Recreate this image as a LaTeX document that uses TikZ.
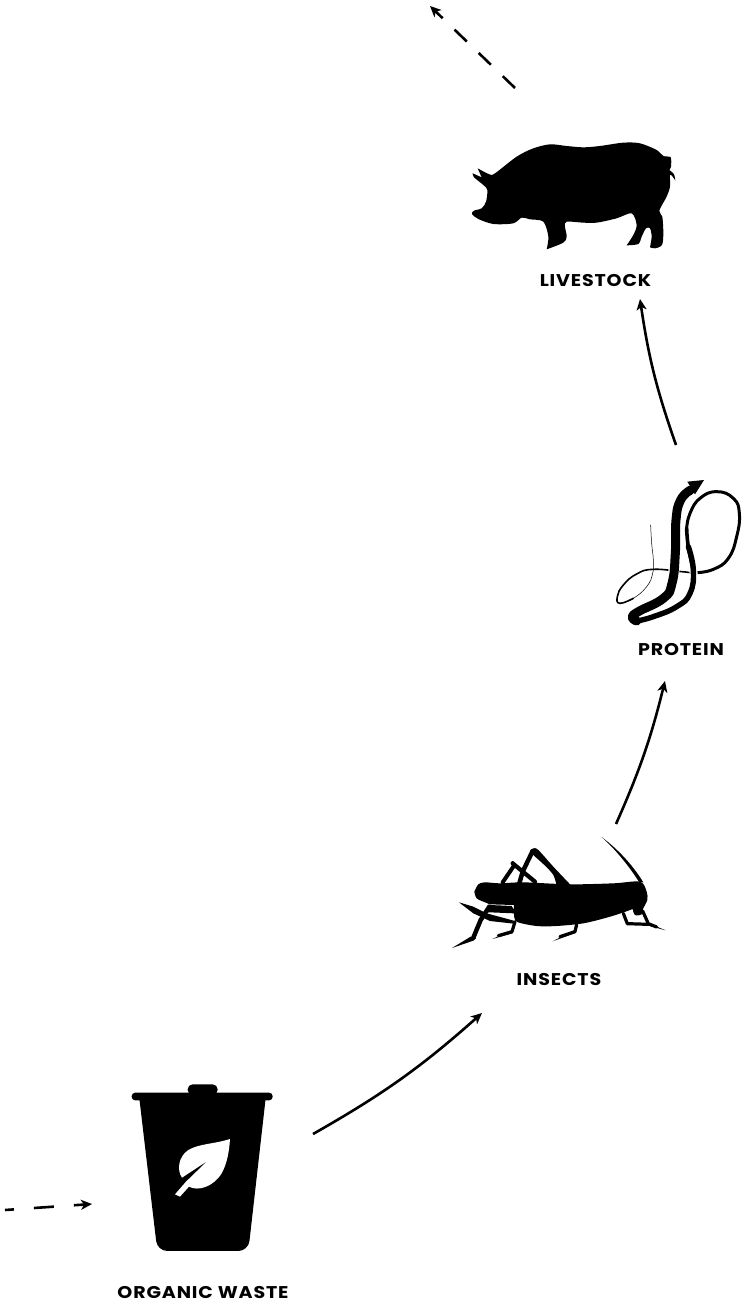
\documentclass[tikz,border=0pt]{standalone}
\usepackage{fontspec}
\setmainfont{Poppins}[BoldFont={Poppins Bold},BoldFeatures={FakeStretch=1.12,LetterSpace=5}]
\usetikzlibrary{arrows.meta}
\tikzset{
  x=1pt,y=-1pt,
  lbl/.style={font=\bfseries\fontsize{17}{19}\selectfont,inner sep=0pt,text=black},
  flow/.style={line width=2.6pt,-{Stealth[length=11pt,width=10pt,inset=3pt]}},
  dflowa/.style={flow,dash pattern=on 17pt off 16.5pt},
  dflowb/.style={flow,dash pattern=on 20pt off 20pt,dash phase=11pt},
  ink/.style={fill=black,draw=none},
  pen/.style={draw=black,line cap=round,line join=round},
  sm/.style={smooth,tension=.5},
  sw/.style={smooth,tension=.8},
}
\begin{document}
\begin{tikzpicture}
\useasboundingbox (0,0) rectangle (743,1303);
% pig
\begin{scope}[shift={(450,120)},x=.3333pt,y=-.3333pt]
\fill[ink] plot[sm] coordinates{(83,145)(118,163)(135,160)(200,110)(250,85)(300,73)(350,78)(400,82)(450,78)(520,68)(570,70)(620,90)(640,108)(662,112)(663,140)(658,150)}
 -- plot[sm] coordinates{(658,150)(672,163)(676,182)} -- plot[sm] coordinates{(676,182)(668,170)(660,165)(660,200)(650,230)(628,272)(637,290)(640,340)(636,375)(615,385)(600,382)}
 -- plot[sm] coordinates{(600,382)(605,350)(600,325)(588,325)(575,350)(565,372)(530,376)}
 -- plot[sm] coordinates{(530,376)(550,345)(560,315)(545,280)(500,295)(440,308)(400,308)(350,305)(345,320)(350,350)(340,368)(290,388)}
 -- plot[sm] coordinates{(290,388)(295,350)(280,305)(240,298)(215,293)(190,310)(130,312)(85,297)(66,282)(72,272)(95,265)(108,245)(112,210)(100,195)(72,172)(68,160)}
 -- (95,172) -- cycle;
\end{scope}
\node[lbl,anchor=center] (livestock) at (595.5,280.5) {LIVESTOCK};
% worm
\begin{scope}[shift={(600,470)},x=.3333pt,y=-.3333pt]
\draw[pen,line width=.5pt] plot[sw] coordinates{(152,165)(155,220)(160,270)(158,310)(140,350)(100,385)(60,400)};
\draw[pen,line width=1.6pt] plot[sw] coordinates{(100,385)(60,400)(52,380)(70,345)(110,312)(160,298)(245,305)(290,308)(340,298)(385,265)(410,200)(418,130)(400,85)(350,65)(300,85)(270,130)(260,175)};
\draw[pen,line width=3pt] plot[sw] coordinates{(290,308)(340,298)(385,265)(410,200)(418,130)(400,85)(350,65)(300,85)(270,130)(260,175)};
\draw[white,line width=8pt] plot[sw] coordinates{(262,230)(280,300)(276,345)};
\draw[white,line width=11pt] plot[sw] coordinates{(228,230)(226,270)(216,340)};
\draw[pen,line width=3.6pt] plot[sw] coordinates{(260,175)(265,230)(280,300)};
\draw[pen,line width=5.4pt] plot[sw] coordinates{(265,230)(280,300)(270,370)(230,410)(160,440)(110,453)};
\draw[pen,line width=9pt] plot[sw] coordinates{(272,60)(242,90)(228,150)(226,250)(216,340)(190,385)(115,425)(97,442)(110,453)};
\fill[ink] (262,35) -- (312,30) -- (285,73) -- cycle;
\end{scope}
\node[lbl,anchor=center] (protein) at (681,649.5) {PROTEIN};
% cricket
\begin{scope}[shift={(440,825)},x=.3333pt,y=-.3333pt]
\fill[ink] plot[sm] coordinates{(103,200)(115,178)(135,172)(180,175)(250,172)(390,178)(520,175)(600,170)(620,200)(622,225)(610,250)(605,268)(585,270)(578,252)}
 -- plot[sm] coordinates{(578,252)(548,263)(500,278)(430,295)(350,303)(290,303)(230,290)(222,265)} -- (150,262) -- (140,262) -- (150,240) -- (215,243) -- (222,255) -- (222,265) -- (222,240) -- (150,238)
 -- plot[sm] coordinates{(150,238)(135,232)(110,220)(103,200)};
\fill[ink] plot[sm] coordinates{(270,78)(280,70)(295,75)(340,125)(392,180)} -- (350,182) -- plot[sm] coordinates{(350,182)(340,150)(315,122)(282,92)} -- cycle;
\fill[ink] (57,232) -- (100,245) -- (140,265) -- (225,288) -- (222,296) -- (150,288) -- (100,265) -- cycle;
\fill[ink] (485,36) .. controls (530,70) and (575,115) .. (610,172) -- (598,172) .. controls (565,120) and (525,72) .. cycle;
\draw[pen,line width=4.5pt] (278,78) -- (248,140) -- (238,175);
\draw[pen,line width=4.2pt] (218,115) -- (285,170);
\draw[pen,line width=4pt] (222,122) -- (188,172);
\draw[pen,line width=3pt] (218,112) -- (222,125);
\draw[pen,line width=4.5pt] (148,245) -- (122,285) -- (100,338);
\fill[ink] (92,335) -- (108,340) -- (100,347) -- (36,369) -- cycle;
\draw[pen,line width=3.2pt] (225,290) -- (216,320) -- (175,332);
\fill[ink] (216,315) -- (218,325) -- (157,342) -- cycle;
\draw[pen,line width=3.2pt] (410,298) -- (405,320) -- (360,335);
\fill[ink] (402,316) -- (406,324) -- (338,349) -- cycle;
\draw[pen,line width=3.2pt] (550,265) -- (562,296) -- (625,298);
\draw[pen,line width=3.2pt] (608,258) -- (625,296) -- (650,306);
\fill[ink] (620,292) -- (625,302) -- (677,316) -- cycle;
\end{scope}
\node[lbl,anchor=center] (insects) at (559,979.5) {INSECTS};
% bin
\begin{scope}[shift={(120,1075)},x=.3333pt,y=-.3333pt]
\fill[ink,rounded corners=3.5pt] (35,53) rectangle (458,76);
\fill[ink,rounded corners=5pt] (203,60) -- (203,28) -- (293,28) -- (293,60) -- cycle;
\fill[ink] (58,70) -- (437,70) {[rounded corners=10pt] -- (385,528) -- (112,528)} -- cycle;
\fill[white] (330,192) .. controls (280,208) and (240,205) .. (205,225) .. controls (175,245) and (170,285) .. (186,308) -- (262,258) -- (198,320) -- (165,358) -- (180,365) -- (207,335) .. controls (235,350) and (280,335) .. (305,295) .. controls (322,265) and (328,225) .. cycle;
\end{scope}
\node[lbl,anchor=center] (waste) at (203,1292.5) {ORGANIC WASTE};
% connectors
\coordinate (a0) at (5,1210);
\coordinate (a1) at (92,1204);
\coordinate (b0) at (313,1134);
\coordinate (b1) at (482,1013);
\coordinate (c0) at (616,824);
\coordinate (c1) at (665,681);
\coordinate (d0) at (676,445);
\coordinate (d1) at (640,299);
\coordinate (e0) at (515,88);
\coordinate (e1) at (430,6);
\draw[dflowb] (a0) -- (a1);
\draw[flow] (b0) to[bend right=6] (b1);
\draw[flow] (c0) to[bend right=5] (c1);
\draw[flow] (d0) to[bend left=5.5] (d1);
\draw[dflowa] (e0) -- (e1);
\end{tikzpicture}
\end{document}
